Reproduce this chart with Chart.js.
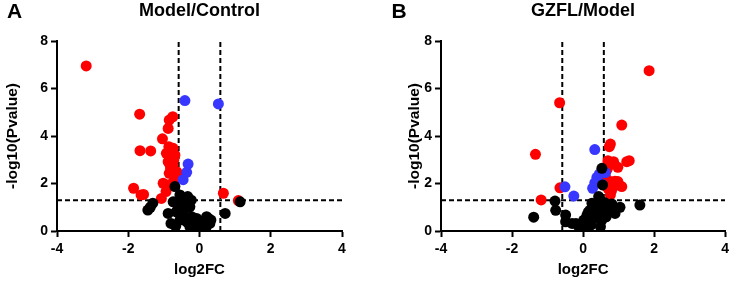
<!DOCTYPE html>
<html>
<head>
<meta charset="utf-8">
<script src="https://cdn.jsdelivr.net/npm/chart.js@4/dist/chart.umd.min.js"></script>
<style>
  html, body { margin: 0; padding: 0; background: #fff; }
  .panel { position: absolute; top: 0; height: 284px; }
</style>
</head>
<body>
<div class="panel" style="left:0px;width:366px"><canvas id="chart_modelControl" width="366" height="284"></canvas></div>
<div class="panel" style="left:366px;width:367px"><canvas id="chart_gzflModel" width="367" height="284"></canvas></div>
<script>
// tick values and cut-offs
var xTicks = [-4, -2, 0, 2, 4];
var yTicks = [0, 2, 4, 6, 8];
var fcCut = 0.585;   // |log2FC| = log2(1.5)
var pCut = 1.3;      // -log10(0.05)

// Model/Control : [log2FC, -log10(P)]
var mcRed = [
  [-3.18, 6.95], [-1.68, 4.92], [-1.67, 3.38], [-1.37, 3.37], [-1.04, 3.88], [-0.88, 4.32],
  [-0.85, 4.67], [-0.75, 4.81], [-0.86, 3.55], [-0.74, 3.48], [-0.93, 3.27], [-0.69, 3.2],
  [-0.78, 3.06], [-0.88, 2.92], [-0.74, 2.78], [-0.81, 2.64], [-0.85, 2.43], [-0.64, 2.5],
  [-0.69, 2.29], [-0.57, 2.33], [-1.02, 2.01], [-0.88, 1.94], [-0.74, 2.05], [-0.94, 1.66],
  [-1.85, 1.80], [-1.64, 1.52], [-1.57, 1.54], [-1.07, 1.37], [0.67, 1.59], [1.09, 1.28],
  [-0.80, 3.4], [-0.72, 3.0], [-0.83, 2.8], [-0.76, 2.6]
];
var mcBlue = [[-0.41, 5.49], [0.53, 5.35], [-0.32, 2.82], [-0.36, 2.47], [-0.46, 2.16]];
var mcBlack = [
  [-0.69, 1.87], [-0.55, 1.52], [-0.33, 1.45], [-0.74, 1.23], [-0.45, 1.23], [-1.31, 1.17],
  [-1.45, 0.88], [-1.38, 1.0], [-0.88, 0.74], [-0.60, 1.02], [-0.27, 1.02], [-0.45, 0.74],
  [-0.22, 0.60], [-0.80, 0.32], [-0.67, 0.2], [-0.55, 0.46], [-0.36, 0.39], [-0.13, 0.32],
  [0.01, 0.11], [0.11, 0.25], [0.25, 0.53], [0.29, 0.32], [-0.08, 0.53], [-0.27, 0.18],
  [0.72, 0.74], [1.14, 1.23], [-0.05, 0.05], [-0.17, 0.18], [0.15, 0.46], [0.32, 0.46],
  [0.07, 0.32], [-0.65, 0.81], [-0.43, 0.95], [-0.23, 1.3], [0.2, 0.6], [0.05, 0.15],
  [-0.1, 0.1], [0.18, 0.15], [-0.5, 0.6], [-0.38, 1.2]
];

// GZFL/Model
var gmRed = [
  [1.86, 6.75], [-0.66, 5.40], [-1.34, 3.23], [-1.18, 1.31], [-0.65, 1.82], [1.09, 4.46],
  [0.77, 3.66], [0.74, 3.55], [0.70, 2.96], [0.86, 2.92], [0.98, 2.68], [1.23, 2.92],
  [1.30, 2.96], [0.63, 2.29], [0.77, 2.08], [0.98, 2.08], [1.09, 1.87], [0.86, 1.87],
  [0.70, 1.80], [0.77, 1.52], [0.75, 2.8], [0.68, 2.6], [0.9, 2.1], [0.8, 1.7]
];
var gmBlue = [
  [0.33, 3.43], [0.46, 2.40], [0.63, 2.46], [0.39, 2.26], [0.33, 2.03], [0.27, 1.80],
  [0.53, 1.98], [-0.51, 1.86], [-0.26, 1.47]
];
var gmBlack = [
  [0.53, 2.64], [0.55, 1.94], [0.44, 1.45], [1.60, 1.09], [1.04, 1.0], [0.81, 1.14],
  [0.9, 0.74], [0.63, 1.09], [0.25, 1.17], [0.34, 1.05], [0.2, 0.88], [0.41, 0.81],
  [0.11, 0.67], [0.30, 0.53], [0.02, 0.46], [0.16, 0.32], [-0.03, 0.11], [-0.12, 0.18],
  [-0.31, 0.32], [-0.49, 0.39], [-0.49, 0.67], [0.53, 0.46], [0.49, 0.18], [0.72, 0.81],
  [0.37, 0.67], [0.05, 0.25], [-1.39, 0.58], [-0.79, 1.26], [-0.77, 0.87], [-0.2, 0.32],
  [-0.08, 0.2], [0.0, 0.03], [0.1, 0.05], [0.22, 0.25], [0.45, 1.3], [0.6, 1.2],
  [0.5, 0.95], [0.28, 1.1], [0.15, 0.8], [0.65, 0.6]
];

Chart.defaults.font.family = "'Liberation Sans', Arial, sans-serif";
Chart.defaults.color = '#000';

function pts(arr) {
  return arr.map(function (p) { return { x: p[0], y: p[1] }; });
}

function dots(arr, colour, order) {
  return {
    data: pts(arr),
    backgroundColor: colour,
    borderWidth: 0,
    pointRadius: 5.5,
    pointHoverRadius: 5.5,
    order: order
  };
}

function cutLine(arr) {
  return {
    data: pts(arr),
    showLine: true,
    borderColor: '#000',
    borderWidth: 2,
    borderDash: [5, 3],
    pointRadius: 0,
    order: 10
  };
}

function makeChart(id, title, letter, letterX, red, blue, black, yWidth, yTitlePad, padRight) {
  return new Chart(document.getElementById(id), {
    type: 'scatter',
    data: {
      datasets: [
        dots(black, '#000000', 1),
        dots(blue, 'rgb(55,55,255)', 2),
        dots(red, '#ff0000', 3),
        cutLine([[-fcCut, 0], [-fcCut, 8]]),
        cutLine([[fcCut, 0], [fcCut, 8]]),
        cutLine([[-4, pCut], [4, pCut]])
      ]
    },
    options: {
      animation: false,
      responsive: false,
      events: [],
      layout: { padding: { left: 0, right: padRight, top: 0, bottom: 0 } },
      plugins: {
        legend: { display: false },
        tooltip: { enabled: false },
        title: {
          display: true,
          text: title,
          fullSize: false,
          color: '#000',
          font: { size: 18, weight: 'bold' },
          padding: { top: 0, bottom: 19.4 }
        }
      },
      scales: {
        x: {
          type: 'linear',
          min: -4,
          max: 4,
          afterBuildTicks: function (s) { s.ticks = xTicks.map(function (v) { return { value: v }; }); },
          afterFit: function (s) { s.height = 53; },
          grid: { display: true, drawOnChartArea: false, tickLength: 6, tickWidth: 2, tickColor: '#000' },
          border: { display: true, width: 2, color: '#000' },
          ticks: { font: { size: 14, weight: 'bold' }, padding: 4, maxRotation: 0 },
          title: { display: true, text: 'log2FC', font: { size: 15, weight: 'bold' }, padding: { top: 0, bottom: 5 } }
        },
        y: {
          type: 'linear',
          min: 0,
          max: 8,
          afterBuildTicks: function (s) { s.ticks = yTicks.map(function (v) { return { value: v }; }); },
          afterFit: function (s) { s.width = yWidth; },
          grid: { display: true, drawOnChartArea: false, tickLength: 6, tickWidth: 2, tickColor: '#000' },
          border: { display: true, width: 2, color: '#000' },
          ticks: { font: { size: 14, weight: 'bold' }, padding: 3 },
          title: { display: true, text: '-log10(Pvalue)', font: { size: 15.5, weight: 'bold' }, padding: { top: yTitlePad, bottom: 0 } }
        }
      }
    },
    plugins: [{
      id: 'panelLetter',
      afterDraw: function (chart) {
        var ctx = chart.ctx;
        ctx.save();
        ctx.fillStyle = '#000';
        ctx.font = "bold 21px 'Liberation Sans', Arial, sans-serif";
        ctx.textAlign = 'center';
        ctx.textBaseline = 'middle';
        ctx.fillText(letter, letterX, 12);
        ctx.restore();
      }
    }]
  });
}

var chart_modelControl = makeChart('chart_modelControl', 'Model/Control', 'A', 14.5,
  mcRed, mcBlue, mcBlack, 57, 3, 24);
var chart_gzflModel = makeChart('chart_gzflModel', 'GZFL/Model', 'B', 33,
  gmRed, gmBlue, gmBlack, 75, 39, 5);
</script>
</body>
</html>
